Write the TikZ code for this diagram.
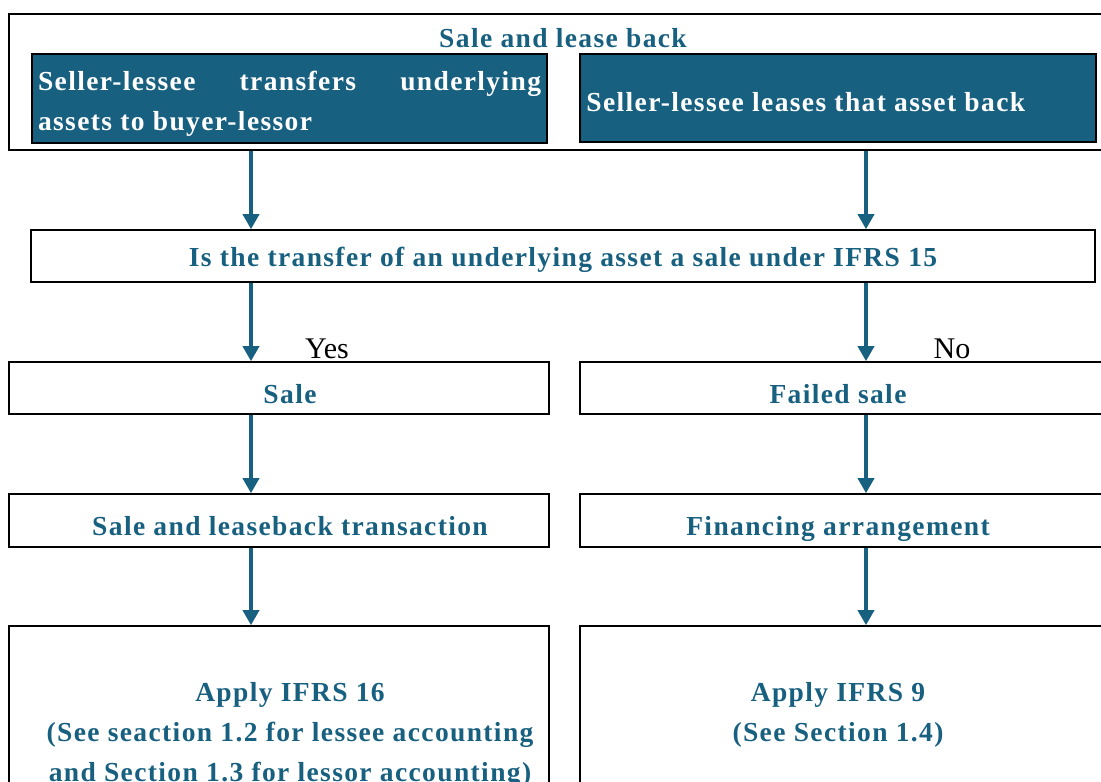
\documentclass[tikz,border=0pt]{standalone}
\usepackage{fontspec}
\setmainfont{Liberation Serif}
\newfontfamily\spc[LetterSpace=5]{Liberation Serif}
\usetikzlibrary{arrows.meta}
\definecolor{teal1}{RGB}{24,96,128}
\begin{document}
\begin{tikzpicture}[x=1pt,y=-1pt,
  box/.style={draw=black, line width=1.6pt, rectangle, inner sep=0pt},
  dark/.style={box, fill=teal1},
  wtxt/.style={text=white, font=\spc\bfseries\fontsize{27.5}{40}\selectfont, inner sep=0pt},
  btxt/.style={text=teal1, font=\spc\bfseries\fontsize{27.5}{40}\selectfont, inner sep=0pt, align=center},
  yn/.style={font=\fontsize{30}{32}\selectfont, inner sep=0pt},
  arr/.style={draw=teal1, line width=3.5pt, -{Triangle[width=16pt,length=15pt]}}
]
\clip (0,0) rectangle (1101,782);
\fill[white] (0,0) rectangle (1101,782);
\coordinate (cL) at (251,0);
\coordinate (cR) at (866,0);

\node[box, minimum width=1110pt, minimum height=136pt] (outer) at (564,82) {};
\node[btxt, anchor=base] (title) at (563,47) {Sale and lease back};
\node[dark, minimum width=515pt, minimum height=89pt, label={[wtxt, text width=503pt, align=justify, yshift=-5.5pt]center:Seller-lessee transfers underlying\linebreak assets to buyer-lessor}] (sl) at (289.5,98.5) {};
\node[dark, minimum width=516pt, minimum height=88pt, label={[wtxt, anchor=base west, xshift=7pt, yshift=-13pt]west:Seller-lessee leases that asset back}] (sr) at (838,98) {};

\node[box, minimum width=1064pt, minimum height=52pt, label={[btxt, anchor=base, yshift=16pt]south:Is the transfer of an underlying asset a sale under IFRS 15}] (q) at (563,256) {};

\node[box, minimum width=540pt, minimum height=52pt, label={[btxt, anchor=base, xshift=11pt, yshift=11pt]south:Sale}] (sale) at (279,388) {};
\node[box, minimum width=539pt, minimum height=52pt, label={[btxt, anchor=base, xshift=-11.5pt, yshift=11pt]south:Failed sale}] (failed) at (849.5,388) {};

\node[box, minimum width=540pt, minimum height=53pt, label={[btxt, anchor=base, xshift=11pt, yshift=12pt]south:Sale and leaseback transaction}] (slb) at (279,520.5) {};
\node[box, minimum width=539pt, minimum height=53pt, label={[btxt, anchor=base, xshift=-11.5pt, yshift=12pt]south:Financing arrangement}] (fin) at (849.5,520.5) {};

\node[box, minimum width=540pt, minimum height=174pt, label={[btxt, xshift=11pt, yshift=-22pt]center:Apply IFRS 16\\(See seaction 1.2 for lessee accounting\\and Section 1.3 for lessor accounting)}] (ifrs16) at (279,713) {};
\node[box, minimum width=539pt, minimum height=174pt, label={[btxt, xshift=-11.5pt, yshift=-2pt]center:Apply IFRS 9\\(See Section 1.4)}] (ifrs9) at (849.5,713) {};

\node[yn] (yes) at (327,349) {Yes};
\node[yn] (no) at (952,349) {No};

\draw[arr] (outer.south -| cL) -- (q.north -| cL);
\draw[arr] (outer.south -| cR) -- (q.north -| cR);
\draw[arr] (q.south -| cL) -- (sale.north -| cL);
\draw[arr] (q.south -| cR) -- (failed.north -| cR);
\draw[arr] (sale.south -| cL) -- (slb.north -| cL);
\draw[arr] (failed.south -| cR) -- (fin.north -| cR);
\draw[arr] (slb.south -| cL) -- (ifrs16.north -| cL);
\draw[arr] (fin.south -| cR) -- (ifrs9.north -| cR);
\end{tikzpicture}
\end{document}
